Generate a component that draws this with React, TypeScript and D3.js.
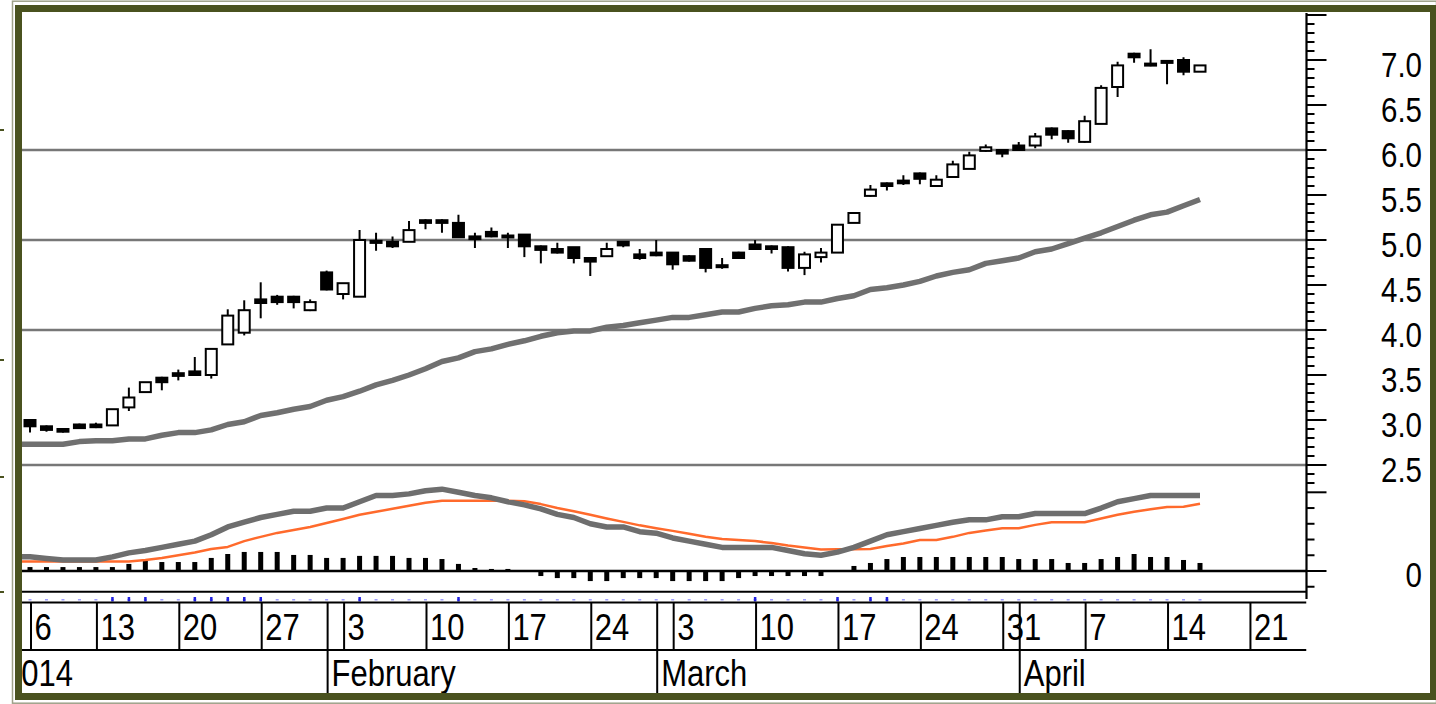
import React from 'react';
import * as d3 from 'd3';

// daily candles, index 0 = first visible session
const opens = [3.00, 2.93, 2.90, 2.95, 2.95, 2.94, 3.14, 3.31, 3.47, 3.52, 3.54, 3.50, 3.84, 3.97, 4.34, 4.37, 4.37, 4.22, 4.64, 4.40,
  4.37, 4.99, 4.98, 4.98, 5.22, 5.22, 5.19, 5.04, 5.09, 5.05, 5.06, 4.93, 4.90, 4.92, 4.80, 4.82, 4.98, 4.84, 4.86, 4.86,
  4.82, 4.90, 4.72, 4.86, 4.95, 4.93, 4.92, 4.69, 4.81, 4.86, 5.19, 5.49, 5.63, 5.66, 5.74, 5.60, 5.70, 5.79, 5.99, 6.00,
  6.05, 6.05, 6.24, 6.21, 6.09, 6.29, 6.70, 7.07, 6.96, 6.99, 7.00, 6.87];
const highs = [3.00, 2.94, 2.91, 2.96, 2.97, 3.12, 3.36, 3.42, 3.48, 3.56, 3.70, 3.79, 4.23, 4.33, 4.53, 4.39, 4.38, 4.34, 4.66, 4.52,
  5.11, 5.08, 5.04, 5.21, 5.23, 5.23, 5.28, 5.08, 5.14, 5.08, 5.06, 4.94, 4.97, 4.92, 4.81, 4.97, 4.99, 4.90, 5.00, 4.86,
  4.83, 4.91, 4.80, 4.87, 5.00, 4.94, 4.93, 4.87, 4.91, 5.17, 5.30, 5.61, 5.64, 5.72, 5.75, 5.72, 5.88, 5.98, 6.06, 6.01,
  6.09, 6.19, 6.25, 6.22, 6.38, 6.72, 6.98, 7.08, 7.12, 7.00, 7.03, 6.94];
const lows = [2.86, 2.87, 2.86, 2.90, 2.91, 2.94, 3.10, 3.30, 3.33, 3.44, 3.49, 3.46, 3.84, 3.94, 4.13, 4.28, 4.24, 4.21, 4.44, 4.34,
  4.37, 4.88, 4.91, 4.98, 5.12, 5.08, 5.03, 4.91, 5.03, 4.91, 4.81, 4.74, 4.85, 4.74, 4.60, 4.82, 4.92, 4.78, 4.82, 4.67,
  4.76, 4.64, 4.68, 4.79, 4.89, 4.85, 4.65, 4.61, 4.75, 4.86, 5.19, 5.48, 5.55, 5.61, 5.62, 5.59, 5.69, 5.79, 5.98, 5.92,
  5.99, 6.02, 6.12, 6.08, 6.08, 6.29, 6.59, 6.97, 6.93, 6.73, 6.83, 6.87];
const closes = [2.93, 2.89, 2.87, 2.91, 2.92, 3.12, 3.25, 3.42, 3.42, 3.49, 3.50, 3.79, 4.16, 4.22, 4.30, 4.31, 4.31, 4.31, 4.45, 4.52,
  5.00, 4.97, 4.93, 5.11, 5.19, 5.19, 5.03, 5.01, 5.04, 5.03, 4.93, 4.89, 4.86, 4.80, 4.76, 4.90, 4.94, 4.80, 4.83, 4.73,
  4.77, 4.69, 4.70, 4.80, 4.90, 4.90, 4.69, 4.84, 4.86, 5.17, 5.30, 5.56, 5.60, 5.63, 5.68, 5.67, 5.84, 5.94, 6.03, 5.96,
  6.00, 6.15, 6.17, 6.13, 6.32, 6.69, 6.94, 7.03, 6.94, 6.97, 6.87, 6.94];

// moving average (thick grey line)
const movingAvg = [2.73, 2.73, 2.73, 2.76, 2.77, 2.77, 2.79, 2.79, 2.83, 2.86, 2.86, 2.89, 2.95, 2.98, 3.05, 3.08, 3.12, 3.15, 3.22, 3.26,
  3.32, 3.39, 3.44, 3.50, 3.57, 3.65, 3.69, 3.76, 3.79, 3.84, 3.88, 3.93, 3.97, 3.99, 3.99, 4.03, 4.05, 4.08, 4.11, 4.14,
  4.14, 4.17, 4.20, 4.20, 4.24, 4.27, 4.28, 4.31, 4.31, 4.35, 4.38, 4.45, 4.47, 4.50, 4.54, 4.60, 4.64, 4.67, 4.74, 4.77,
  4.80, 4.87, 4.90, 4.96, 5.02, 5.08, 5.15, 5.22, 5.28, 5.31, 5.38, 5.45];

// MACD pane
const macdLine = [0.09, 0.08, 0.07, 0.07, 0.07, 0.09, 0.115, 0.13, 0.15, 0.17, 0.19, 0.23, 0.28, 0.31, 0.34, 0.36, 0.38, 0.38, 0.40, 0.40,
  0.44, 0.48, 0.48, 0.49, 0.51, 0.52, 0.50, 0.48, 0.465, 0.44, 0.42, 0.395, 0.36, 0.34, 0.30, 0.28, 0.28, 0.25, 0.24, 0.21,
  0.19, 0.17, 0.15, 0.15, 0.15, 0.15, 0.13, 0.11, 0.10, 0.12, 0.15, 0.19, 0.23, 0.25, 0.27, 0.29, 0.31, 0.325, 0.325, 0.345,
  0.345, 0.365, 0.365, 0.365, 0.365, 0.40, 0.44, 0.46, 0.48, 0.48, 0.48, 0.48];
const signalLine = [0.06, 0.06, 0.06, 0.06, 0.06, 0.06, 0.06, 0.07, 0.083, 0.10, 0.117, 0.14, 0.153, 0.19, 0.217, 0.242, 0.261, 0.28, 0.305, 0.33,
  0.357, 0.376, 0.395, 0.414, 0.433, 0.446, 0.447, 0.447, 0.447, 0.447, 0.443, 0.425, 0.40, 0.38, 0.357, 0.334, 0.312, 0.29, 0.272, 0.255,
  0.236, 0.217, 0.204, 0.197, 0.19, 0.178, 0.162, 0.15, 0.137, 0.138, 0.138, 0.14, 0.159, 0.175, 0.197, 0.197, 0.217, 0.242, 0.258, 0.272,
  0.272, 0.293, 0.31, 0.31, 0.31, 0.334, 0.357, 0.376, 0.392, 0.406, 0.408, 0.427];
const histogram = [0.025, 0.025, 0.025, 0.025, 0.025, 0.025, 0.045, 0.064, 0.057, 0.057, 0.057, 0.083, 0.108, 0.121, 0.121, 0.121, 0.102, 0.102, 0.083, 0.083,
  0.096, 0.096, 0.096, 0.083, 0.083, 0.076, 0.045, 0.019, 0.013, 0.013, 0.003, -0.032, -0.045, -0.045, -0.064, -0.064, -0.045, -0.045, -0.045, -0.064,
  -0.064, -0.064, -0.064, -0.045, -0.032, -0.032, -0.032, -0.032, -0.032, -0.006, 0.032, 0.051, 0.076, 0.089, 0.089, 0.089, 0.089, 0.089, 0.089, 0.089,
  0.076, 0.076, 0.076, 0.051, 0.051, 0.076, 0.089, 0.108, 0.089, 0.089, 0.07, 0.051];

// blue event marks under the MACD pane
const markedDays = [5, 6, 7, 10, 11, 12, 13, 14, 20, 26, 44, 49, 51, 52];

// date axis
const dayTickIdx = [0, 4, 9, 14, 19, 24, 29, 34, 39, 44, 49, 54, 59, 64, 69, 74];
const dayTickLabels = ['6', '13', '20', '27', '3', '10', '17', '24', '3', '10', '17', '24', '31', '7', '14', '21'];
const monthIdx = [18, 38, 60];
const monthLabels = ['February', 'March', 'April'];
const yearLabel = '2014';

// right axis labels
const priceLabels = ['2.5', '3.0', '3.5', '4.0', '4.5', '5.0', '5.5', '6.0', '6.5', '7.0'];
const gridPrices = [2.5, 4, 5, 6];

const W = 1436;
const H = 704;
const L = 22;
const R = 1306.5;
const T = 13;
const FONT = 'Liberation Sans, Arial, sans-serif';
const OLIVE = '#4a521f';

function Txt(props: any) {
  const { x, y, size, anchor, children } = props;
  return (
    <text transform={`translate(${x},${y}) scale(1,1.2)`} fontSize={size} fontFamily={FONT}
      textAnchor={anchor || 'start'} fill="#000">{children}</text>
  );
}

export default function App() {
  const x = d3.scaleLinear().domain([0, 71]).range([30, 1200]);
  const y = d3.scaleLinear().domain([2.5, 7]).range([465, 60]);
  const ym = d3.scaleLinear().domain([0, 0.5]).range([571, 492.3]);

  const lineFrom = (vals: number[], sc: any) => {
    const pts: [number, number][] = [[L, sc(vals[0])], ...vals.map((v, i) => [x(i), sc(v)] as [number, number])];
    return d3.line()(pts) as string;
  };

  const bodyW = 11;
  const priceTicks = d3.range(23, 76).map(k => k / 10);
  const macdTicks = d3.range(-1, 6).map(k => k / 10);
  const boxTop = 602.5;
  const boxMid = 650;
  const boxBot = 693;

  return (
    <svg width={W} height={H} style={{ position: 'absolute', left: 0, top: 0, display: 'block', background: '#fff' }}>
      <defs>
        <clipPath id="plot"><rect x={L} y={T} width={R - L} height={H - T} /></clipPath>
      </defs>
      <rect x={0} y={0} width={W} height={H} fill="#fff" />

      {/* grid lines */}
      {gridPrices.map(p => (
        <line key={p} x1={L} x2={R} y1={y(p)} y2={y(p)} stroke="#777" strokeWidth={2.6} />
      ))}

      <g clipPath="url(#plot)">
        {/* moving average */}
        <path d={lineFrom(movingAvg, y)} fill="none" stroke="#707070" strokeWidth={5.5} strokeLinejoin="round" />

        {/* candles */}
        {opens.map((o, i) => {
          const c = closes[i];
          const up = c >= o;
          const top = y(Math.max(o, c));
          const bot = y(Math.min(o, c));
          const h = Math.max(bot - top, 2);
          return (
            <g key={i}>
              <line x1={x(i)} x2={x(i)} y1={y(highs[i])} y2={y(lows[i])} stroke="#000" strokeWidth={2} />
              <rect x={x(i) - bodyW / 2} y={top} width={bodyW} height={h}
                fill={up ? '#fff' : '#000'} stroke="#000" strokeWidth={2} />
            </g>
          );
        })}

        {/* MACD */}
        {histogram.map((v, i) => (
          <rect key={i} x={x(i) - 2.5} width={5} y={Math.min(ym(0), ym(v))} height={Math.abs(ym(v) - ym(0))} fill="#000" />
        ))}
        <line x1={L} x2={R} y1={ym(0)} y2={ym(0)} stroke="#000" strokeWidth={2.5} />
        <path d={lineFrom(signalLine, ym)} fill="none" stroke="#ff6a2c" strokeWidth={2.5} strokeLinejoin="round" />
        <path d={lineFrom(macdLine, ym)} fill="none" stroke="#6e6e6e" strokeWidth={5.5} strokeLinejoin="round" />

        <line x1={L} x2={R} y1={591.7} y2={591.7} stroke="#000" strokeWidth={2} />
        {opens.map((_, i) => (
          <rect key={i} x={x(i) - 1.5} y={599} width={3} height={1.5} fill="#a0a0ff" />
        ))}
        {markedDays.map(i => (
          <rect key={i} x={x(i) - 1.2} y={597} width={2.5} height={4.5} fill="#2020e0" />
        ))}

        {/* date axis */}
        <line x1={L} x2={R} y1={boxTop} y2={boxTop} stroke="#000" strokeWidth={2} />
        <line x1={L} x2={R} y1={boxMid} y2={boxMid} stroke="#000" strokeWidth={2} />
        {dayTickIdx.map((d, k) => (
          <g key={k}>
            <line x1={x(d) + 1} x2={x(d) + 1} y1={boxTop} y2={boxMid} stroke="#000" strokeWidth={2} />
            <Txt x={x(d) + 4.5} y={640} size={31}>{dayTickLabels[k]}</Txt>
          </g>
        ))}
        {monthIdx.map((d, k) => (
          <g key={k}>
            <line x1={x(d) + 1} x2={x(d) + 1} y1={boxTop} y2={boxBot} stroke="#000" strokeWidth={2} />
            <Txt x={x(d) + 5} y={686} size={31}>{monthLabels[k]}</Txt>
          </g>
        ))}
        <Txt x={L - 18} y={686} size={31}>{yearLabel}</Txt>
      </g>

      {/* right axis */}
      <line x1={R} x2={R} y1={T} y2={599} stroke="#000" strokeWidth={2.2} />
      {priceTicks.map(v => {
        const major = Math.round(v * 10) % 5 === 0;
        return <line key={'p' + v} x1={R} x2={R + (major ? 20 : 8)} y1={y(v)} y2={y(v)} stroke="#000" strokeWidth={2} />;
      })}
      {macdTicks.map(v => {
        const major = Math.round(v * 10) % 5 === 0;
        return <line key={'m' + v} x1={R} x2={R + (major ? 20 : 8)} y1={ym(v)} y2={ym(v)} stroke="#000" strokeWidth={2} />;
      })}
      {priceLabels.map(s => (
        <Txt key={s} x={1422} y={y(+s) + 17} size={29.5} anchor="end">{s}</Txt>
      ))}
      <Txt x={1422} y={ym(0) + 16} size={29.5} anchor="end">0</Txt>

      {/* frame */}
      <rect x={12.5} y={1.2} width={W - 12} height={H - 2} fill="none" stroke="#9ea189" strokeWidth={1.5} />
      <rect x={18.5} y={8.5} width={1433.5 - 18.5} height={696.5 - 8.5} fill="none" stroke={OLIVE} strokeWidth={7} />
      {[130, 360, 477, 592].map(v => (
        <line key={v} x1={0} x2={4} y1={v} y2={v} stroke={OLIVE} strokeWidth={2} />
      ))}
    </svg>
  );
}
